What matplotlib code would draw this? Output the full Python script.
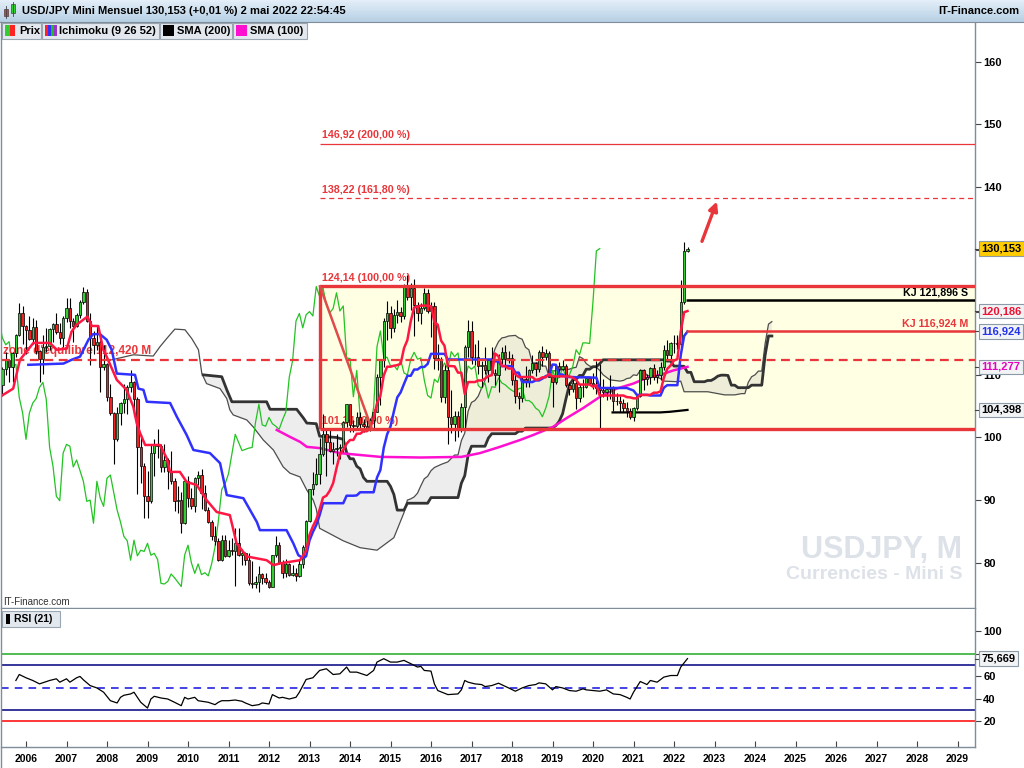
import numpy as np
import matplotlib.pyplot as plt
import matplotlib.transforms as mtransforms
from matplotlib.colors import LinearSegmentedColormap
from matplotlib.patches import Rectangle

plt.rcParams['font.family'] = ['Liberation Sans', 'DejaVu Sans']
plt.rcParams['font.weight'] = 'bold'

# bougies mensuelles USD/JPY, juin 2005 -> mai 2022 (mois 0 = janvier 2006)
first_month = -7
opens = [
    108.3, 110.9, 112.4, 111.2, 113.5, 116.4, 119.8,
    117.8, 117.2, 115.8, 117.7, 113.8, 112.6, 114.4, 114.6, 117.3, 118.1, 116.9, 115.9,
    119.0, 120.7, 118.6, 117.8, 119.5, 121.7, 123.2, 118.6, 115.9, 114.8, 115.3, 111.2,
    111.7, 106.4, 103.9, 99.7, 103.9, 105.5, 106.2, 108.0, 108.8, 106.1, 98.4, 95.4,
    90.6, 89.9, 97.5, 98.9, 98.6, 95.3, 96.4, 94.7, 93.0, 89.8, 90.0, 86.3,
    93.0, 90.3, 89.0, 93.5, 94.0, 91.2, 88.4, 86.5, 84.2, 83.5, 80.4, 83.6,
    81.1, 82.0, 81.8, 83.1, 81.2, 81.5, 80.5, 76.7, 76.6, 77.0, 78.2, 77.6,
    76.9, 76.2, 81.2, 82.8, 80.0, 78.3, 79.8, 78.1, 78.4, 77.9, 79.8, 82.5,
    86.7, 91.7, 92.6, 94.2, 97.4, 100.5, 99.2, 97.9, 98.1, 98.3, 98.4, 102.4,
    105.3, 102.0, 101.8, 103.2, 102.2, 101.8, 101.3, 102.8, 104.1, 109.6, 112.3, 118.6,
    119.8, 117.5, 119.6, 120.1, 119.4, 124.1, 122.5, 123.9, 121.2, 119.9, 120.6, 123.1,
    120.2, 121.0, 112.7, 112.6, 106.5, 110.7, 103.3, 102.1, 103.4, 101.4, 104.8, 114.5,
    117.0, 112.8, 112.8, 111.4, 111.5, 110.8, 112.4, 110.3, 110.0, 112.5, 113.6, 112.5,
    112.7, 109.2, 106.7, 106.3, 109.3, 108.8, 110.7, 111.9, 111.0, 113.7, 112.9, 113.5,
    109.7, 108.9, 111.4, 110.9, 111.4, 108.3, 107.8, 108.7, 106.3, 108.1, 108.0, 109.5,
    108.7, 108.4, 107.9, 107.5, 107.2, 107.8, 107.9, 105.9, 105.9, 105.5, 104.7, 104.3,
    103.3, 104.7, 106.6, 110.7, 109.3, 109.6, 111.1, 109.7, 110.0, 111.3, 114.0, 113.2,
    115.1, 115.1, 115.0, 121.7, 129.8,
]
highs = [
    111.2, 113.7, 112.5, 113.6, 116.5, 121.4, 121.0,
    117.9, 119.4, 119.0, 118.7, 114.0, 116.4, 117.5, 117.4, 118.3, 119.9, 118.2, 119.4,
    122.2, 122.2, 119.0, 119.8, 122.0, 124.1, 123.7, 119.8, 117.0, 117.9, 115.5, 114.7,
    111.9, 108.6, 104.1, 104.9, 105.7, 108.6, 108.4, 110.7, 109.0, 106.4, 100.5, 96.0,
    94.6, 98.9, 99.7, 101.4, 99.0, 98.9, 96.8, 97.8, 93.5, 92.3, 91.3, 93.1,
    93.8, 92.0, 93.7, 94.7, 94.9, 92.4, 88.9, 86.9, 85.9, 83.9, 84.4, 84.5,
    83.7, 84.0, 85.5, 85.5, 82.2, 81.7, 81.5, 80.2, 77.9, 79.5, 78.3, 78.3,
    77.2, 81.3, 84.2, 83.3, 80.4, 80.6, 80.0, 79.6, 79.2, 80.4, 82.8, 86.8,
    91.8, 94.5, 96.7, 99.9, 103.7, 101.5, 101.5, 99.2, 100.6, 99.0, 102.6, 105.4,
    105.4, 102.8, 104.1, 104.1, 103.0, 102.8, 103.1, 104.5, 110.1, 112.5, 119.0, 121.8,
    121.0, 120.5, 122.0, 120.8, 124.5, 125.9, 124.6, 125.3, 121.7, 121.5, 123.8, 123.7,
    121.7, 121.7, 114.9, 112.9, 111.5, 111.4, 107.5, 104.3, 104.3, 105.5, 114.8, 118.7,
    118.6, 114.9, 115.5, 112.2, 114.4, 112.5, 114.5, 111.0, 113.3, 114.5, 114.7, 113.8,
    113.4, 110.5, 107.3, 109.6, 111.4, 110.9, 113.2, 112.1, 114.0, 114.6, 114.2, 113.8,
    110.0, 111.5, 112.1, 112.4, 111.7, 108.8, 109.3, 109.3, 108.5, 109.3, 109.7, 109.7,
    110.3, 112.2, 111.7, 109.4, 108.1, 109.9, 108.2, 107.1, 106.6, 106.1, 105.7, 104.7,
    104.9, 106.7, 111.0, 111.0, 110.2, 111.2, 111.7, 110.8, 112.1, 114.7, 115.5, 115.2,
    116.35, 116.3, 125.1, 131.25, 130.4,
]
lows = [
    106.6, 109.9, 108.8, 108.9, 112.9, 116.2, 115.0,
    113.4, 115.5, 115.0, 113.4, 108.9, 110.1, 113.6, 113.9, 115.3, 116.5, 115.0, 114.4,
    118.5, 117.5, 115.2, 117.6, 119.1, 121.3, 118.4, 111.6, 113.4, 113.9, 107.2, 110.8,
    105.9, 103.6, 95.8, 99.5, 102.0, 103.9, 103.8, 107.2, 103.5, 90.9, 92.7, 87.1,
    87.1, 89.5, 93.8, 96.7, 94.5, 94.5, 91.7, 92.6, 88.2, 88.0, 84.8, 86.2,
    88.9, 88.5, 88.1, 92.4, 88.6, 88.2, 86.3, 83.6, 82.9, 80.2, 80.2, 80.9,
    80.9, 81.2, 76.3, 81.0, 79.6, 79.7, 76.5, 75.9, 75.9, 75.3, 76.6, 76.6,
    76.0, 76.1, 80.9, 79.8, 77.6, 77.7, 77.9, 77.9, 77.1, 77.7, 79.2, 81.7,
    86.5, 90.8, 92.4, 92.6, 97.1, 93.8, 97.6, 95.8, 97.1, 96.6, 97.6, 101.6,
    100.8, 100.8, 101.2, 101.4, 100.8, 101.1, 101.1, 101.5, 104.0, 105.2, 111.2, 115.6,
    115.9, 116.9, 118.3, 118.5, 118.9, 122.0, 120.4, 116.2, 118.6, 118.1, 120.3, 119.9,
    116.0, 111.0, 110.7, 105.6, 105.5, 99.0, 100.7, 99.5, 100.1, 100.9, 101.2, 112.9,
    111.7, 111.6, 110.1, 108.1, 110.2, 108.8, 110.6, 108.3, 107.3, 111.7, 110.8, 111.9,
    108.3, 105.5, 104.6, 105.7, 108.1, 108.1, 110.3, 109.8, 110.4, 111.4, 112.3, 109.6,
    104.9, 108.5, 109.7, 110.8, 108.1, 106.8, 107.2, 104.5, 105.7, 106.5, 107.9, 108.4,
    107.7, 107.0, 101.2, 106.4, 106.0, 106.1, 104.2, 105.2, 104.0, 104.0, 103.2, 102.9,
    102.6, 104.4, 106.4, 107.5, 108.3, 108.6, 109.1, 108.7, 109.1, 110.8, 112.5, 112.5,
    113.5, 114.2, 114.7, 121.3, 129.6,
]
closes = [
    110.9, 112.4, 111.2, 113.5, 116.4, 119.8, 117.8,
    117.2, 115.8, 117.7, 113.8, 112.6, 114.4, 114.6, 117.3, 118.1, 116.9, 115.9, 119.0,
    120.7, 118.6, 117.8, 119.5, 121.7, 123.2, 118.6, 115.9, 114.8, 115.3, 111.2, 111.7,
    106.4, 103.9, 99.7, 103.9, 105.5, 106.2, 108.0, 108.8, 106.1, 98.4, 95.4, 90.6,
    89.9, 97.5, 98.9, 98.6, 95.3, 96.4, 94.7, 93.0, 89.8, 90.0, 86.3, 93.0,
    90.3, 89.0, 93.5, 94.0, 91.2, 88.4, 86.5, 84.2, 83.5, 80.4, 83.6, 81.1,
    82.0, 81.8, 83.1, 81.2, 81.5, 80.5, 76.7, 76.6, 77.0, 78.2, 77.6, 76.9,
    76.2, 81.2, 82.8, 80.0, 78.3, 79.8, 78.1, 78.4, 77.9, 79.8, 82.5, 86.7,
    91.7, 92.6, 94.2, 97.4, 100.5, 99.2, 97.9, 98.1, 98.3, 98.4, 102.4, 105.3,
    102.0, 101.8, 103.2, 102.2, 101.8, 101.3, 102.8, 104.1, 109.6, 112.3, 118.6, 119.8,
    117.5, 119.6, 120.1, 119.4, 124.1, 122.5, 123.9, 121.2, 119.9, 120.6, 123.1, 120.2,
    121.0, 112.7, 112.6, 106.5, 110.7, 103.3, 102.1, 103.4, 101.4, 104.8, 114.5, 117.0,
    112.8, 112.8, 111.4, 111.5, 110.8, 112.4, 110.3, 110.0, 112.5, 113.6, 112.5, 112.7,
    109.2, 106.7, 106.3, 109.3, 108.8, 110.7, 111.9, 111.0, 113.7, 112.9, 113.5, 109.7,
    108.9, 111.4, 110.9, 111.4, 108.3, 107.8, 108.7, 106.3, 108.1, 108.0, 109.5, 108.7,
    108.4, 107.9, 107.5, 107.2, 107.8, 107.9, 105.9, 105.9, 105.5, 104.7, 104.3, 103.3,
    104.7, 106.6, 110.7, 109.3, 109.6, 111.1, 109.7, 110.0, 111.3, 114.0, 113.2, 115.1,
    115.1, 115.0, 121.7, 129.8, 130.153,
]

# Ichimoku (9 26 52) et moyennes mobiles: (mois, valeur)
tenkan = [(-7.7, 106.5), (-3.8, 107.8), (-1.8, 112.4), (2.2, 115.1), (7.1, 115.1), (9.1, 114.0),
          (12.1, 114.2), (13.5, 116.9), (15.0, 118.0), (18.2, 119.3), (19.5, 117.8), (21.4, 117.8),
          (22.9, 114.0), (23.9, 112.9), (26.9, 109.2), (29.8, 107.6), (31.8, 104.9), (32.8, 102.3),
          (33.8, 100.7), (35.3, 98.8), (39.7, 98.8), (41.7, 96.7), (42.7, 94.5), (45.6, 94.5),
          (47.6, 92.9), (50.6, 92.4), (53.5, 90.0), (56.5, 88.1), (60.4, 87.6), (62.4, 83.1),
          (65.4, 81.0), (71.3, 80.4), (73.3, 79.6), (75.3, 79.9), (81.2, 80.4), (83, 81.9),
          (84, 84.45), (85, 85.8), (86, 86.9), (87, 88.5), (88, 90.4), (89, 90.7), (90, 91.5),
          (91, 92.7), (92, 95.1), (93, 97.3), (94, 98.05), (95, 99.0), (96, 99.6), (97, 99.6),
          (98, 100.6), (99, 100.6), (100, 101.0), (101, 101.0), (102, 101.5), (103, 103.1),
          (104, 105.45), (105, 106.65), (106, 109.9), (107, 111.3), (108, 111.3), (109, 111.45),
          (110, 111.55), (111, 111.75), (112, 114.25), (113, 115.55), (114, 118.55), (115, 120.75),
          (116, 120.9), (117, 121.05), (119, 121.05), (120, 120.95), (121, 118.45), (122, 118.0),
          (123, 115.45), (124, 114.65), (125, 111.4), (126, 111.4), (127, 111.35), (128, 110.35),
          (129, 110.35), (130, 106.95), (131, 108.85), (133, 108.85), (134, 109.1), (135, 109.1),
          (136, 109.4), (137, 109.8), (138, 109.95), (139, 113.4), (140, 112.95), (141, 111.4),
          (142, 111.4), (143, 111.0), (144, 111.0), (145, 110.1), (146, 109.65), (150, 109.65),
          (151, 109.2), (152, 109.3), (153, 109.6), (154, 109.6), (155, 110.15), (156, 109.75),
          (161, 109.75), (162, 109.55), (163, 109.15), (164, 108.45), (167, 108.45), (168, 108.1),
          (169, 108.35), (170, 106.7), (177, 106.7), (178, 106.45), (179, 106.4), (180, 106.25),
          (181, 106.25), (182, 106.8), (185, 106.8), (186, 107.15), (187, 107.15), (188, 107.35),
          (189, 109.55), (190, 110.95), (191, 111.5), (192, 112.3), (193, 112.5), (194, 116.9),
          (195, 120.0), (196, 120.186)]
kijun = [(0.7, 111.6), (11.1, 111.8), (13.5, 112.4), (16.0, 112.9), (18.5, 115.6), (19.9, 116.5),
         (21.9, 116.5), (23.9, 115.6), (25.4, 114.0), (26.9, 110.2), (32.3, 110.0), (33.3, 107.8),
         (34.8, 107.6), (35.8, 105.7), (42.7, 105.5), (44.7, 103.3), (47.6, 100.4), (49.6, 98.0),
         (54.5, 97.5), (57.5, 95.9), (59.5, 90.8), (64.4, 90.3), (68.4, 86.5), (69.3, 85.2),
         (77.2, 85.2), (79.2, 83.1), (80.7, 81.2), (82.2, 80.7), (83, 81.05), (84, 83.55),
         (85, 84.9), (86, 86.0), (87, 87.6), (88, 89.5), (94, 89.5), (95, 90.7), (97, 90.7),
         (98, 90.75), (99, 91.25), (103, 91.25), (104, 93.6), (105, 94.8), (106, 98.35),
         (107, 100.5), (108, 101.75), (109, 104.15), (110, 106.4), (111, 107.2), (112, 108.55),
         (113, 109.85), (114, 109.85), (115, 110.85), (116, 110.85), (117, 111.25), (118, 111.25),
         (119, 111.75), (120, 113.35), (124, 113.35), (125, 112.45), (138, 112.45), (139, 112.15),
         (140, 112.15), (141, 111.4), (143, 111.4), (144, 111.35), (145, 110.35), (146, 110.35),
         (147, 108.85), (150, 108.85), (151, 109.1), (152, 109.1), (153, 109.4), (154, 109.8),
         (155, 109.95), (156, 111.65), (157, 111.6), (158, 110.05), (159, 110.05), (160, 109.65),
         (162, 109.65), (163, 109.6), (167, 109.6), (168, 109.55), (169, 109.55), (170, 107.9),
         (178, 107.9), (179, 107.7), (180, 107.5), (181, 106.8), (184, 106.8), (185, 106.7),
         (188, 106.7), (189, 107.95), (190, 108.35), (193, 108.35), (194, 113.15), (195, 116.2),
         (196, 116.924)]
senkou_a = [(25.4, 112.4), (31.8, 113.2), (37.7, 113.0), (39.7, 114.5), (41.7, 115.8), (44.1, 117.3),
            (47.1, 117.2), (49.1, 115.8), (51.1, 114.0), (52.1, 110.2), (53.5, 108.6), (57.5, 107.8),
            (59.5, 106.2), (60.4, 104.4), (61.4, 103.6), (65.4, 102.8), (67.3, 101.7), (70.3, 99.6),
            (73.3, 98.0), (76.2, 95.3), (78.2, 94.3), (81.2, 93.7), (83.2, 91.6), (85.1, 90.0),
            (86, 88.6), (87, 85.5), (94, 83.5), (99, 82.4), (104, 82.0), (109, 84.0), (112, 88.0),
            (113, 90.0), (114, 90.2), (115, 90.5), (116, 91.1), (117, 92.3), (118, 93.4), (119, 93.8),
            (120, 94.7), (121, 95.2), (123, 95.7), (125, 96.1), (127, 97.2), (128, 97.2), (129, 99.5),
            (130, 100.7), (131, 104.2), (132, 105.6), (133, 105.9), (134, 106.6), (135, 107.9),
            (136, 109.1), (137, 111.4), (138, 112.4), (139, 114.2), (140, 115.3), (141, 115.9),
            (142, 116.0), (143, 116.2), (145, 116.3), (146, 115.9), (147, 115.7), (148, 114.4),
            (149, 114.0), (150, 111.9), (152, 111.9), (153, 111.4), (154, 111.4), (155, 109.7),
            (156, 110.6), (159, 110.8), (161, 110.9), (162, 111.1), (163, 111.2), (164, 112.9),
            (165, 112.6), (166, 111.8), (167, 111.4), (169, 111.2), (170, 110.7), (171, 110.0),
            (173, 109.2), (176, 109.0), (177, 109.1), (178, 109.4), (179, 109.5), (180, 110.0),
            (181, 109.9), (182, 110.7), (183, 110.7), (184, 109.9), (186, 109.7), (187, 109.6),
            (188, 109.4), (189, 109.0), (193, 108.9), (194, 109.0), (195, 107.3), (202, 107.3),
            (203, 107.2), (204, 107.1), (205, 107.0), (206, 106.9), (207, 106.8), (210, 106.8),
            (211, 106.9), (212, 107.0), (213, 107.0), (214, 108.8), (215, 109.7), (216, 110.0),
            (217, 110.6), (218, 110.6), (219, 115.0), (220, 118.1), (221, 118.5)]
senkou_b = [(52.5, 110.0), (58, 109.7), (59.5, 107.6), (61, 105.7), (71.3, 105.7), (72.3, 104.5),
            (80.2, 104.5), (82.2, 103.1), (83.2, 102.3), (86, 102.2), (87, 100.2), (92, 100.0),
            (94, 99.7), (95, 97.6), (96, 96.6), (97, 96.6), (98, 95.4), (99, 95.0), (100, 93.6),
            (101, 93.0), (107, 93.0), (108, 92.2), (109, 90.9), (110, 88.4), (112, 88.4), (113, 89.5),
            (119, 89.5), (120, 90.4), (128, 90.4), (129, 92.7), (130, 93.9), (131, 97.2), (132, 98.6),
            (136, 98.6), (137, 99.9), (138, 100.6), (145, 100.6), (146, 101.0), (147, 101.0),
            (148, 101.5), (156, 101.5), (157, 101.9), (158, 102.6), (159, 103.8), (160, 106.2),
            (161, 108.4), (162, 109.2), (163, 109.3), (164, 109.9), (165, 109.9), (166, 110.9),
            (167, 110.9), (168, 111.3), (169, 111.3), (170, 111.8), (171, 112.4), (189, 112.4),
            (190, 112.2), (191, 112.2), (192, 111.4), (194, 111.4), (195, 111.35), (196, 110.4),
            (197, 110.4), (198, 108.9), (201, 108.9), (202, 109.1), (203, 109.1), (204, 109.4),
            (205, 109.8), (206, 109.95), (207, 109.95), (208, 109.9), (209, 108.35), (210, 108.35),
            (211, 107.95), (214, 107.95), (215, 108.35), (218, 108.35), (219, 113.15), (220, 116.2),
            (221, 116.2)]
sma100 = [(74.3, 101.2), (78.2, 100.1), (81.2, 99.3), (83.2, 98.5), (87.1, 98.3), (93, 97.5),
          (105, 96.9), (117, 96.8), (129, 96.9), (134.5, 97.5), (140.4, 98.5), (146.4, 99.6),
          (150.3, 100.4), (156.2, 101.7), (160.2, 103.1), (165.1, 104.7), (170.1, 106.5),
          (175, 107.8), (179.9, 108.6), (183.9, 109.5), (187.9, 110.0), (191.8, 110.7), (196, 111.277)]
sma200 = [(173.8, 104.0), (187.9, 104.0), (190.8, 104.1), (196, 104.398)]

# RSI (21)
rsi = [(-3, 56.3), (-2, 61.6), (0, 58.7), (2, 56.3), (4, 53.3), (7, 56.3), (9, 57.8), (10, 54.8),
       (12, 57.8), (13, 54.8), (15, 58.7), (16, 59.9), (17, 56.9), (19, 51.8), (21, 49.7), (23, 45.9),
       (25, 38.4), (27, 36.4), (28, 41.4), (29, 43.2), (31, 44.4), (32, 45.9), (33, 41.4), (34, 37.0),
       (36, 31.9), (37, 39.9), (38, 42.3), (40, 40.8), (42, 39.9), (44, 37.0), (46, 34.0), (47, 41.4),
       (48, 39.9), (50, 41.4), (51, 38.4), (54, 37.0), (56, 34.9), (57, 37.0), (58, 38.4), (60, 38.4),
       (62, 39.0), (64, 37.9), (65, 36.4), (67, 34.0), (69, 34.9), (70, 36.4), (72, 35.5), (73, 43.8),
       (75, 40.8), (76, 41.4), (78, 39.9), (80, 41.4), (81, 45.9), (83, 57.2), (85, 58.7), (87, 65.2),
       (89, 66.7), (91, 61.6), (93, 62.2), (95, 68.2), (96, 63.7), (98, 63.7), (101, 60.7), (103, 65.2),
       (104, 72.6), (106, 75.6), (108, 72.6), (110, 72.6), (112, 74.1), (113, 72.6), (114, 71.2),
       (116, 68.2), (117, 68.8), (118, 65.2), (120, 64.6), (121, 53.3), (122, 47.4), (125, 43.8),
       (128, 44.4), (129, 48.0), (130, 56.3), (131, 54.8), (133, 53.3), (135, 52.7), (136, 50.9),
       (138, 51.8), (140, 53.9), (143, 49.7), (145, 46.8), (147, 49.7), (149, 51.8), (151, 52.7),
       (152, 54.2), (154, 53.3), (156, 48.0), (157, 50.9), (159, 49.7), (161, 47.4), (163, 46.8),
       (165, 48.9), (166, 48.0), (168, 47.4), (170, 46.8), (172, 48.0), (174, 44.4), (176, 43.8),
       (178, 41.4), (179, 39.9), (180, 45.9), (182, 55.4), (184, 52.7), (185, 56.3), (187, 54.8),
       (189, 59.3), (191, 60.7), (193, 60.7), (194, 68.2), (196, 75.669)]
rsi_levels = [80, 70, 50, 30, 20]

years = list(range(2006, 2030))
fib_low, fib_high = 101.34, 124.14
fib_ext = [138.22, 146.92]
fib_start, fib_end = 87.1, 102.5
zone_eq = 112.42
kj_s, kj_m = 121.896, 116.924

RED = '#e8363a'
GRID = '#7f8c99'
W, H = 1024, 768

months = np.arange(first_month, first_month + len(closes))
o, h, l, c = map(np.array, (opens, highs, lows, closes))

fig = plt.figure(figsize=(W / 100, H / 100), dpi=100)
ax = fig.add_axes([1 / W, 1 - 608 / H, 974 / W, 586 / H])
rx = fig.add_axes([1 / W, 1 - 747 / H, 974 / W, 138 / H], sharex=ax)
x_left, x_right = (1 - 26) / 3.375, (975 - 26) / 3.375
ax.set_xlim(x_left, x_right)
ax.set_ylim(72.77, 166.34)
rx.set_ylim(-2.6, 119.6)

for a in (ax, rx):
    for s in ('left', 'top'):
        a.spines[s].set_visible(False)
    for s in ('right', 'bottom'):
        a.spines[s].set_color(GRID)
        a.spines[s].set_linewidth(1)
    a.yaxis.tick_right()
    a.tick_params(axis='y', length=4, width=0.8, color='#444444', pad=2, labelsize=8)

# les etiquettes 120, 130 et 80 (RSI) sont cachees par les cartouches de valeurs
price_ticks = list(range(80, 161, 10))
ax.set_yticks(price_ticks)
ax.set_yticklabels(['' if v in (120, 130) else str(v) for v in price_ticks])
rsi_ticks = [20, 40, 60, 80, 100]
rx.set_yticks(rsi_ticks)
rx.set_yticklabels(['' if v == 80 else str(v) for v in rsi_ticks])
rx.set_xticks([(y - 2006) * 12 for y in years])
rx.set_xticklabels([str(y) for y in years])
rx.tick_params(axis='x', direction='in', length=4, width=0.8, color='#444444', pad=5, labelsize=7.5)
ax.tick_params(axis='x', bottom=False, labelbottom=False)

# zone Fibonacci
ax.add_patch(Rectangle((fib_start, fib_low), 300, fib_high - fib_low, fc='#ffffe4', ec='none', zorder=0.5))
ax.hlines([fib_low, fib_high], fib_start, x_right + 5, color=RED, lw=2.4, zorder=5)
ax.vlines(fib_start, fib_low, fib_high, color=RED, lw=2.4, zorder=5)
ax.plot([fib_start, fib_end], [fib_high, fib_low], color='#e04a4a', lw=1.8, zorder=5)
ax.hlines(fib_ext[1], fib_start, x_right + 5, color=RED, lw=0.9, zorder=5)
ax.hlines(fib_ext[0], fib_start, x_right + 5, color=RED, lw=0.9, linestyles=(0, (4, 3)), zorder=5)
for lvl, txt in [(fib_low, '101,34 (0,00 %)'), (fib_high, '124,14 (100,00 %)'),
                 (fib_ext[0], '138,22 (161,80 %)'), (fib_ext[1], '146,92 (200,00 %)')]:
    ax.text(fib_start + 0.6, lvl + 0.5, txt, color=RED, fontsize=7.7, va='bottom', zorder=2.5)

ax.axhline(zone_eq, color=RED, lw=1.6, dashes=(4, 2.5), zorder=5)
ax.text(x_left + 0.5, zone_eq + 0.45, "zone d'equilibre 112,420 M", color=RED, fontsize=8.5,
        va='bottom', zorder=2.5)

# nuage Ichimoku
am, av = map(np.array, zip(*senkou_a))
bm, bv = map(np.array, zip(*senkou_b))
keep = am >= bm[0] - 0.5
ax.fill(np.concatenate([am[keep], bm[::-1]]), np.concatenate([av[keep], bv[::-1]]),
        color='#b4b4b4', alpha=0.24, lw=0, zorder=1)
ax.plot(am, av, color='#4d4d4d', lw=0.9, zorder=1.5)
ax.plot(bm, bv, color='#333333', lw=2.0, zorder=1.6)

# chikou span
ax.plot(months - 26, c, color='#22c322', lw=0.9, zorder=2)

for series, col, lw in [(sma100, '#ff10d0', 1.8), (sma200, 'black', 1.6)]:
    sm, sv = zip(*series)
    ax.plot(sm, sv, color=col, lw=lw, zorder=2.3)

# bougies
up = c >= o
ax.vlines(months, l, h, color='black', lw=0.8, zorder=3)
ax.bar(months[up], (c - o)[up], bottom=o[up], width=0.7, color='#33cc33', edgecolor='black', lw=0.5, zorder=3.1)
ax.bar(months[~up], (o - c)[~up], bottom=c[~up], width=0.7, color='#ee2222', edgecolor='black', lw=0.5, zorder=3.1)

for series, col in [(kijun, '#3030ff'), (tenkan, '#ff1744')]:
    sm, sv = zip(*series)
    ax.plot(sm, sv, color=col, lw=1.8, zorder=4)

# niveaux KJ
ax.hlines(kj_s, months[-1] - 0.3, x_right + 5, color='black', lw=1.8, zorder=5)
ax.hlines(kj_m, months[-1] - 0.3, x_right + 5, color=RED, lw=1.8, zorder=5)
ax.text(x_right - 2, kj_s + 0.5, 'KJ 121,896 S', color='black', fontsize=7.7, ha='right', va='bottom', zorder=6)
ax.text(x_right - 2, kj_m + 0.5, 'KJ 116,924 M', color=RED, fontsize=7.7, ha='right', va='bottom', zorder=6)

ax.annotate('', xy=(205, 138.1), xytext=(200, 130.9),
            arrowprops=dict(arrowstyle='-|>', color=RED, lw=2.4, mutation_scale=13), zorder=6)

ax.text(962 / 975, 0.099, 'USDJPY, M', transform=ax.transAxes, ha='right', va='center',
        fontsize=22, color='#dde2e9', zorder=0.6)
ax.text(962 / 975, 0.058, 'Currencies - Mini S', transform=ax.transAxes, ha='right', va='center',
        fontsize=14, color='#dde2e9', zorder=0.6)

# RSI
for lvl, col, ls in zip(rsi_levels, ['#22aa22', '#000080', '#1010dd', '#000080', '#ff0000'],
                        ['-', '-', (0, (5, 4)), '-', '-']):
    rx.axhline(lvl, color=col, lw=1.1, linestyle=ls, zorder=1)
rm, rv = zip(*rsi)
rx.plot(rm, rv, color='black', lw=0.9, zorder=3)


def value_tag(axis, val, fg, bg='#f1f3f5'):
    tr = mtransforms.blended_transform_factory(axis.transAxes, axis.transData)
    axis.plot([1.0, 1.0045], [val, val], transform=tr, color='#444444', lw=0.8, clip_on=False, zorder=19)
    axis.text(1.0068, val, f'{val:.3f}'.replace('.', ','), transform=tr, ha='left', va='center',
              fontsize=8, color=fg, clip_on=False, zorder=20,
              bbox=dict(boxstyle='square,pad=0.2', fc=bg, ec='#8c9aa8', lw=0.8))


value_tag(ax, c[-1], 'black', '#ffcc00')
value_tag(ax, tenkan[-1][1], '#ee1133')
value_tag(ax, kijun[-1][1], '#2233ee')
value_tag(ax, sma100[-1][1], '#e800c0')
value_tag(ax, sma200[-1][1], 'black')
value_tag(rx, rsi[-1][1], 'black')

# habillage (barre de titre, onglets)
ui = fig.add_axes([0, 0, 1, 1], zorder=10)
ui.patch.set_alpha(0)
ui.axis('off')
hdr = LinearSegmentedColormap.from_list('hdr', ['#e3eef8', '#b7d0e5'])
ui.imshow(np.linspace(0, 1, 22)[:, None], extent=[0, W, 22, 0], aspect='auto', cmap=hdr)
ui.set_xlim(0, W)
ui.set_ylim(H, 0)
ui.plot([0, W], [22, 22], color=GRID, lw=0.8)
ui.plot([0.5, 0.5], [22, H], color=GRID, lw=1)
ui.text(22, 11.5, 'USD/JPY Mini Mensuel 130,153 (+0,01 %) 2 mai 2022 22:54:45', fontsize=8, va='center')
ui.text(1019, 11.5, 'IT-Finance.com', fontsize=8, va='center', ha='right')
ui.add_patch(Rectangle((4, 9), 4, 7, fc='#ee3333', ec='#444444', lw=0.5))
ui.plot([6, 6], [6, 18], color='#444444', lw=0.6)
ui.add_patch(Rectangle((10.5, 4), 4, 9, fc='#33cc33', ec='#444444', lw=0.5))
ui.plot([12.5, 12.5], [2, 16], color='#444444', lw=0.6)

tabs = [(2, 39, 'Prix'), (42, 117, 'Ichimoku (9 26 52)'), (160, 72, 'SMA (200)'), (233, 74, 'SMA (100)')]
for tx, tw, label in tabs:
    ui.add_patch(Rectangle((tx, 22.5), tw, 16, fc='#e2e8ee', ec='#9aa6b2', lw=0.8))
    ui.text(tx + 17, 30.5, label, fontsize=8, va='center')
ui.add_patch(Rectangle((5, 25), 5, 11, fc='#33cc33', ec='none'))
ui.add_patch(Rectangle((10, 25), 5, 11, fc='#ff2222', ec='none'))
for i, col in enumerate(['#ff2222', '#3333ff', '#22bb22', '#9933cc']):
    ui.add_patch(Rectangle((45 + i * 3, 25), 3, 11, fc=col, ec='none'))
ui.add_patch(Rectangle((163, 25), 11, 11, fc='black', ec='none'))
ui.add_patch(Rectangle((236, 25), 11, 11, fc='#ff10d0', ec='none'))

ui.text(3, 602, 'IT-Finance.com', fontsize=7, fontweight='normal', color='#333333', va='center')
ui.add_patch(Rectangle((2, 611), 58, 16, fc='#e2e8ee', ec='#9aa6b2', lw=0.8))
ui.add_patch(Rectangle((6, 614), 4, 10, fc='black', ec='none'))
ui.text(14, 619, 'RSI (21)', fontsize=7.5, va='center')

fig.savefig('out.png', dpi=100)
